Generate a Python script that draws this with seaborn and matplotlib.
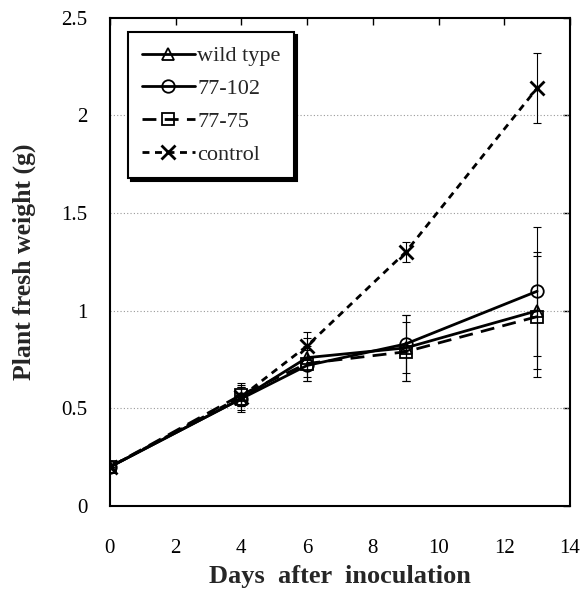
import pandas as pd
import matplotlib
matplotlib.use("Agg")
import matplotlib.pyplot as plt
import seaborn as sns

DAYS = [0, 4, 6, 9, 13]

WILD_TYPE = [0.20, 0.55, 0.76, 0.81, 1.00]
WILD_TYPE_ERR = [0.0, 0.06, 0.10, 0.17, 0.30]

LINE_77_102 = [0.20, 0.55, 0.72, 0.83, 1.10]
LINE_77_102_ERR = [0.0, 0.07, 0.08, 0.15, 0.33]

LINE_77_75 = [0.20, 0.57, 0.73, 0.79, 0.97]
LINE_77_75_ERR = [0.0, 0.06, 0.09, 0.15, 0.31]

CONTROL = [0.20, 0.56, 0.82, 1.30, 2.14]
CONTROL_ERR = [0.0, 0.05, 0.07, 0.05, 0.18]

SERIES = ['wild type', '77-102', '77-75', 'control']

sns.set_style("white")
plt.rcParams['font.family'] = ['Liberation Serif', 'DejaVu Serif']

rows = []
for name, vals, errs in zip(SERIES,
                            [WILD_TYPE, LINE_77_102, LINE_77_75, CONTROL],
                            [WILD_TYPE_ERR, LINE_77_102_ERR, LINE_77_75_ERR, CONTROL_ERR]):
    for d, v, e in zip(DAYS, vals, errs):
        rows.append({'day': d, 'weight': v, 'err': e, 'series': name})
df = pd.DataFrame(rows)

styles = {
    'wild type': dict(marker='^', ls='-'),
    '77-102': dict(marker='o', ls='-'),
    '77-75': dict(marker='s', ls=(0, (5, 3))),
    'control': dict(marker='x', ls=(0, (2.5, 2))),
}

fig = plt.figure(figsize=(5.84, 5.94), dpi=100)
ax = fig.add_axes([0.188, 0.148, 0.788, 0.822])

for name in SERIES:
    sub = df[df['series'] == name]
    st = styles[name]
    ax.errorbar(sub['day'], sub['weight'], yerr=sub['err'], fmt='none',
                ecolor='black', elinewidth=0.8, capsize=3, capthick=0.8, zorder=2)
    is_x = st['marker'] == 'x'
    sns.lineplot(data=sub, x='day', y='weight', ax=ax, color='black',
                 linestyle=st['ls'], linewidth=2.0, marker=st['marker'],
                 markersize=10 if is_x else 9,
                 markerfacecolor='black' if is_x else 'none',
                 markeredgecolor='black', markeredgewidth=2 if is_x else 1.3,
                 label=name, zorder=3)

ax.set_xlim(0, 14)
ax.set_ylim(0, 2.5)
ax.set_xticks(range(0, 15, 2))
ax.set_yticks([0, 0.5, 1, 1.5, 2, 2.5])
ax.set_yticklabels(['0', '0.5', '1', '1.5', '2', '2.5'])
for y in [0.5, 1, 1.5, 2]:
    ax.axhline(y, color='#999999', lw=0.8, ls=(0, (1, 2)), zorder=1)

ax.tick_params(direction='in', top=True, right=True, length=5, width=1,
               labelsize=15, colors='black')
ax.tick_params(axis='x', pad=24)
ax.tick_params(axis='y', pad=16)
for s in ax.spines.values():
    s.set_color('black')
    s.set_linewidth(1.5)

ax.set_xlabel('Days  after  inoculation', fontsize=19, fontweight='bold', labelpad=5)
ax.set_ylabel('Plant fresh weight (g)', fontsize=18.5, fontweight='bold', labelpad=18)

leg = ax.legend(loc='upper left', bbox_to_anchor=(0.04, 0.97), borderaxespad=0,
                fontsize=16, frameon=True, fancybox=False,
                shadow={'color': 'black', 'alpha': 1},
                handlelength=2.4, handletextpad=0.1, borderpad=0.6, labelspacing=0.55)
leg.get_frame().set_edgecolor('black')
leg.get_frame().set_linewidth(1.5)

plt.savefig('out.png', dpi=100)
plt.close()
